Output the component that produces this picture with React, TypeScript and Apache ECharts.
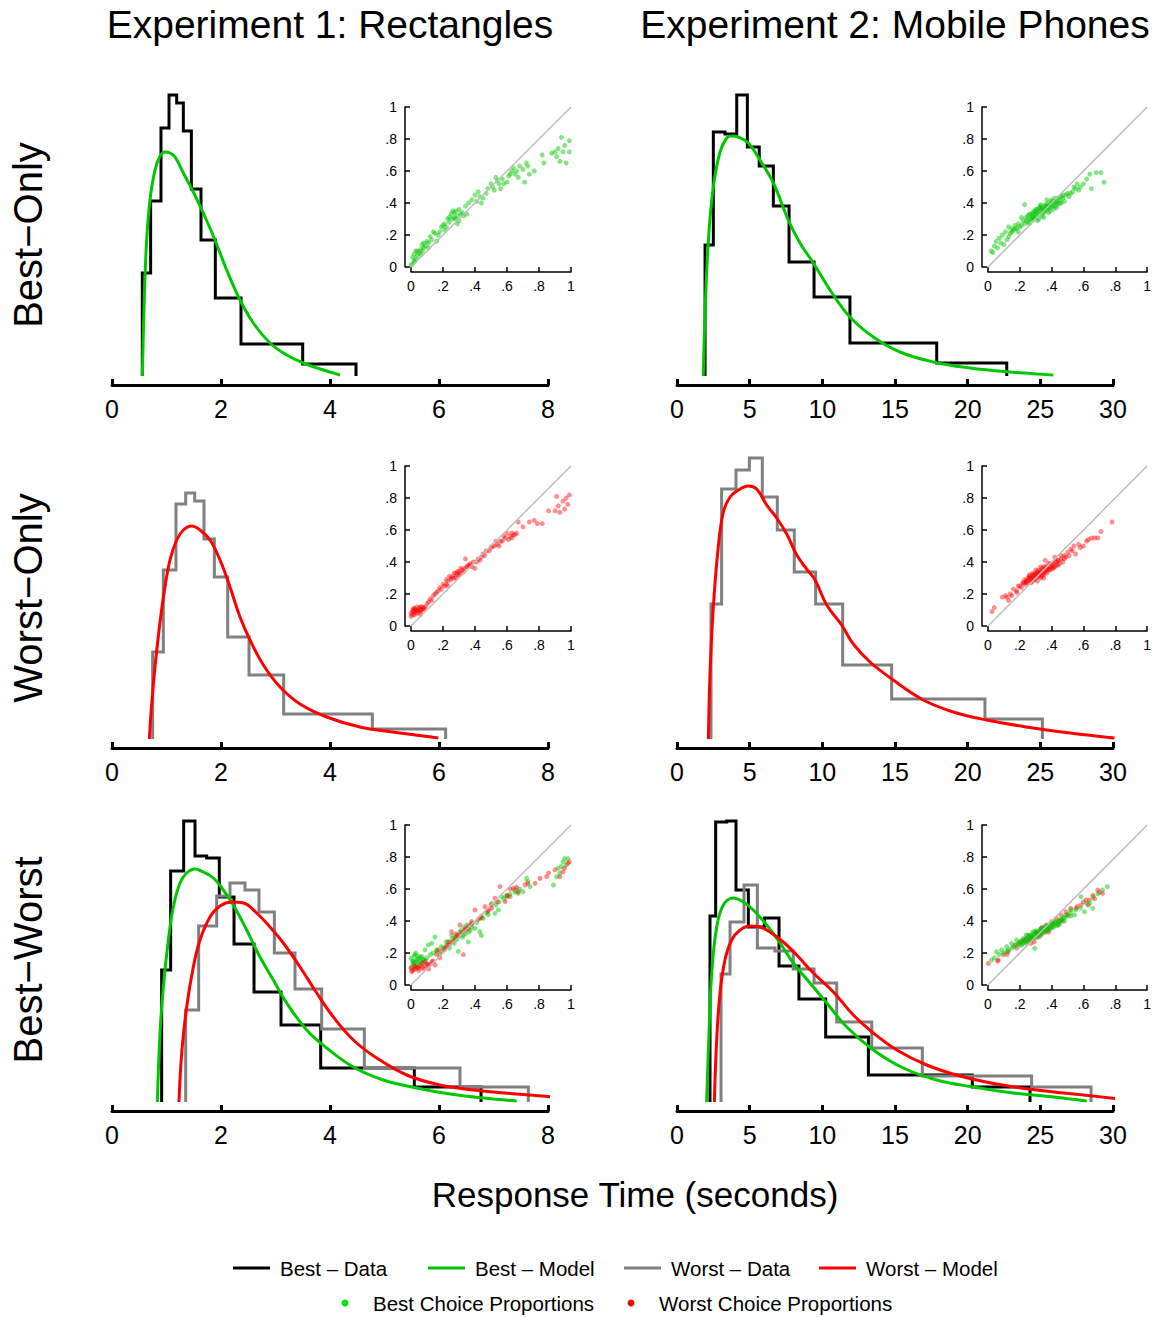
import React, { useEffect, useRef } from 'react';
import * as echarts from 'echarts';

const FONT = '"Liberation Sans", Arial, Helvetica, sans-serif';

const COL_BEST_DATA = '#000000';
const COL_BEST_MODEL = '#00c800';
const COL_WORST_DATA = '#808080';
const COL_WORST_MODEL = '#ff0000';
const COL_BEST_PTS = 'rgba(0,200,0,0.6)';
const COL_WORST_PTS = 'rgba(255,0,0,0.55)';

const TITLES = ['Experiment 1: Rectangles', 'Experiment 2: Mobile Phones'];
const ROW_LABELS = ['Best\u2212Only', 'Worst\u2212Only', 'Best\u2212Worst'];
const X_TITLE = 'Response Time (seconds)';
const LEGEND_LINES = ['Best \u2013 Data', 'Best \u2013 Model', 'Worst \u2013 Data', 'Worst \u2013 Model'];
const LEGEND_DOTS = ['Best Choice Proportions', 'Worst Choice Proportions'];

const X_MAX = [8, 30];
const X_STEP = [2, 5];
const DIAG = [[0, 0], [1, 1]];

// ---------- Histograms (bin edges in seconds, density heights) ----------
const r1c1BestEdges = [0.556, 0.709, 0.899, 1.046, 1.187, 1.309, 1.456, 1.633, 1.896, 2.367, 3.499, 4.477];
const r1c1BestHeights = [1.03, 1.75, 2.48, 2.81, 2.73, 2.45, 1.87, 1.36, 0.78, 0.32, 0.12];

const r1c2BestEdges = [1.93, 2.5, 3.3, 4.11, 4.84, 5.66, 6.63, 7.71, 9.43, 11.9, 17.87, 22.69];
const r1c2BestHeights = [1.31, 2.44, 2.42, 2.81, 2.29, 2.1, 1.7, 1.14, 0.79, 0.33, 0.13];

const r2c1WorstEdges = [0.746, 0.942, 1.174, 1.352, 1.517, 1.688, 1.878, 2.123, 2.514, 3.15, 4.777, 6.122];
const r2c1WorstHeights = [0.87, 1.69, 2.35, 2.46, 2.38, 2.0, 1.62, 1.02, 0.64, 0.25, 0.1];

const r2c2WorstEdges = [2.34, 3.07, 4.06, 4.98, 5.87, 6.9, 8.07, 9.54, 11.4, 14.77, 21.19, 25.14];
const r2c2WorstHeights = [1.35, 2.5, 2.69, 2.81, 2.42, 2.09, 1.67, 1.35, 0.74, 0.4, 0.2];

const r3c1BestEdges = [0.911, 1.076, 1.315, 1.523, 1.737, 1.969, 2.239, 2.606, 3.101, 3.829, 5.547, 6.771];
const r3c1BestHeights = [1.32, 2.31, 2.81, 2.46, 2.44, 2.05, 1.58, 1.1, 0.77, 0.34, 0.15];
const r3c1WorstEdges = [1.352, 1.59, 1.921, 2.165, 2.44, 2.697, 2.979, 3.358, 3.847, 4.63, 6.385, 7.639];
const r3c1WorstHeights = [0.92, 1.76, 2.06, 2.19, 2.12, 1.9, 1.49, 1.13, 0.73, 0.34, 0.15];

const r3c2BestEdges = [2.27, 2.66, 3.42, 4.06, 4.91, 6.01, 7.02, 8.39, 10.23, 13.17, 20.32, 24.29];
const r3c2BestHeights = [1.86, 2.8, 2.81, 2.12, 1.75, 1.84, 1.36, 1.03, 0.65, 0.27, 0.15];
const r3c2WorstEdges = [3.03, 3.65, 4.61, 5.53, 6.74, 8.0, 9.43, 10.99, 13.4, 16.88, 24.4, 28.49];
const r3c2WorstHeights = [1.28, 1.8, 2.17, 1.54, 1.51, 1.33, 1.19, 0.8, 0.54, 0.26, 0.15];

// ---------- Model densities ----------
const r1c1BestModel = [[0.557, 0], [0.593, 0.79], [0.636, 1.36], [0.697, 1.76], [0.789, 2.06], [0.881, 2.2], [0.972, 2.24], [1.064, 2.23], [1.156, 2.19], [1.309, 2.03], [1.492, 1.84], [1.675, 1.63], [1.89, 1.36], [2.104, 1.06], [2.349, 0.76], [2.593, 0.53], [2.899, 0.33], [3.205, 0.21], [3.511, 0.13], [3.817, 0.07], [4.183, 0.01]];
const r1c2BestModel = [[1.81, 0], [1.93, 0.63], [2.16, 1.36], [2.5, 1.89], [2.96, 2.24], [3.42, 2.38], [3.76, 2.4], [4.22, 2.39], [4.91, 2.33], [5.71, 2.16], [6.63, 1.93], [7.66, 1.56], [8.46, 1.33], [9.38, 1.13], [10.53, 0.86], [11.9, 0.59], [13.51, 0.39], [15.34, 0.24], [17.64, 0.14], [20.16, 0.08], [22.91, 0.04], [25.89, 0.01]];
const r2c1WorstModel = [[0.685, 0], [0.728, 0.35], [0.789, 0.72], [0.881, 1.17], [0.972, 1.52], [1.064, 1.79], [1.187, 1.99], [1.309, 2.09], [1.462, 2.13], [1.615, 2.09], [1.798, 1.99], [1.982, 1.79], [2.165, 1.52], [2.349, 1.22], [2.532, 0.99], [2.777, 0.74], [3.083, 0.52], [3.45, 0.35], [3.939, 0.22], [4.55, 0.12], [5.284, 0.06], [5.987, 0.01]];
const r2c2WorstModel = [[2.16, 0], [2.27, 0.65], [2.5, 1.32], [2.84, 1.92], [3.19, 2.27], [3.65, 2.42], [4.22, 2.49], [4.91, 2.53], [5.48, 2.5], [6.17, 2.34], [6.86, 2.21], [7.55, 2.05], [8.24, 1.84], [8.92, 1.7], [9.5, 1.59], [10.3, 1.34], [11.33, 1.14], [12.13, 0.95], [13.28, 0.77], [14.88, 0.59], [16.95, 0.39], [19.01, 0.27], [21.31, 0.19], [24.06, 0.12], [27.04, 0.06], [30.1, 0.01]];
const r3c1BestModel = [[0.832, 0], [0.881, 0.69], [0.942, 1.15], [1.034, 1.62], [1.125, 1.95], [1.248, 2.19], [1.37, 2.29], [1.523, 2.33], [1.675, 2.3], [1.859, 2.24], [2.043, 2.12], [2.226, 1.97], [2.471, 1.72], [2.716, 1.45], [2.96, 1.22], [3.205, 0.99], [3.572, 0.72], [3.939, 0.54], [4.428, 0.35], [4.978, 0.22], [5.59, 0.14], [6.202, 0.08], [6.813, 0.04], [7.425, 0.01]];
const r3c1WorstModel = [[1.229, 0], [1.279, 0.49], [1.37, 0.95], [1.492, 1.35], [1.615, 1.62], [1.798, 1.85], [1.982, 1.96], [2.196, 2.0], [2.41, 1.99], [2.654, 1.89], [2.899, 1.75], [3.143, 1.59], [3.45, 1.35], [3.756, 1.09], [4.061, 0.85], [4.428, 0.62], [4.856, 0.44], [5.407, 0.27], [6.018, 0.17], [6.63, 0.12], [7.425, 0.08], [8.343, 0.04]];
const r3c2BestModel = [[2.04, 0], [2.2, 0.69], [2.39, 1.29], [2.73, 1.75], [3.19, 1.97], [3.87, 2.04], [4.56, 2.0], [5.25, 1.92], [6.17, 1.77], [7.09, 1.59], [8.0, 1.39], [9.15, 1.19], [10.3, 0.99], [11.68, 0.75], [13.51, 0.52], [15.57, 0.34], [17.87, 0.22], [20.39, 0.15], [23.14, 0.09], [25.89, 0.05], [28.19, 0.01]];
const r3c2WorstModel = [[2.57, 0], [2.73, 0.62], [2.96, 1.09], [3.3, 1.42], [3.76, 1.62], [4.34, 1.72], [5.02, 1.76], [5.71, 1.75], [6.4, 1.7], [7.31, 1.6], [8.24, 1.47], [9.38, 1.29], [10.76, 1.1], [12.13, 0.87], [13.51, 0.69], [15.12, 0.52], [17.18, 0.37], [19.47, 0.26], [21.99, 0.18], [24.75, 0.12], [27.96, 0.07], [31.17, 0.02]];

// ---------- Choice proportions (observed x, predicted y) ----------
const r1c1BestPts = [[0.01, 0.02], [0.02, 0.04], [0.01, 0.06], [0.03, 0.05], [0.02, 0.08], [0.04, 0.07], [0.03, 0.1], [0.05, 0.09], [0.06, 0.11], [0.07, 0.1], [0.08, 0.12], [0.09, 0.13], [0.07, 0.14], [0.1, 0.16], [0.11, 0.15], [0.12, 0.19], [0.13, 0.17], [0.15, 0.21], [0.14, 0.22], [0.16, 0.16], [0.17, 0.2], [0.19, 0.25], [0.2, 0.26], [0.21, 0.27], [0.22, 0.25], [0.21, 0.23], [0.23, 0.3], [0.24, 0.31], [0.25, 0.33], [0.26, 0.3], [0.27, 0.34], [0.28, 0.35], [0.27, 0.31], [0.29, 0.32], [0.3, 0.36], [0.31, 0.33], [0.3, 0.29], [0.32, 0.34], [0.29, 0.27], [0.34, 0.38], [0.36, 0.4], [0.35, 0.33], [0.38, 0.42], [0.4, 0.45], [0.41, 0.41], [0.42, 0.47], [0.43, 0.44], [0.44, 0.4], [0.47, 0.46], [0.5, 0.52], [0.51, 0.5], [0.53, 0.56], [0.54, 0.54], [0.55, 0.52], [0.52, 0.48], [0.56, 0.49], [0.57, 0.55], [0.6, 0.53], [0.61, 0.57], [0.63, 0.6], [0.64, 0.62], [0.65, 0.58], [0.66, 0.6], [0.67, 0.56], [0.68, 0.63], [0.7, 0.61], [0.72, 0.65], [0.73, 0.63], [0.74, 0.58], [0.71, 0.53], [0.77, 0.6], [0.82, 0.7], [0.83, 0.65], [0.88, 0.71], [0.9, 0.72], [0.92, 0.74], [0.93, 0.66], [0.94, 0.81], [0.95, 0.72], [0.96, 0.76], [0.97, 0.65], [0.99, 0.79], [0.99, 0.72], [0.91, 0.69], [0.0, 0.01], [0.02, 0.03], [0.04, 0.1], [0.06, 0.08], [0.08, 0.15], [0.11, 0.12], [0.18, 0.22], [0.24, 0.28], [0.26, 0.35], [0.28, 0.3], [0.33, 0.32], [0.45, 0.43], [0.48, 0.49], [0.58, 0.52], [0.62, 0.58]];

const r1c2BestPts = [[0.02, 0.1], [0.04, 0.13], [0.05, 0.16], [0.07, 0.18], [0.09, 0.2], [0.1, 0.14], [0.06, 0.12], [0.13, 0.19], [0.15, 0.24], [0.17, 0.26], [0.19, 0.27], [0.21, 0.26], [0.23, 0.39], [0.24, 0.29], [0.26, 0.33], [0.28, 0.34], [0.3, 0.36], [0.33, 0.38], [0.35, 0.37], [0.36, 0.35], [0.38, 0.4], [0.4, 0.42], [0.42, 0.41], [0.44, 0.43], [0.46, 0.44], [0.49, 0.45], [0.51, 0.44], [0.53, 0.47], [0.54, 0.5], [0.57, 0.48], [0.6, 0.52], [0.64, 0.58], [0.65, 0.49], [0.68, 0.59], [0.71, 0.59], [0.73, 0.53], [0.11, 0.22], [0.14, 0.21], [0.16, 0.23], [0.12, 0.17], [0.18, 0.24], [0.2, 0.25], [0.19, 0.22], [0.22, 0.29], [0.24, 0.31], [0.25, 0.28], [0.26, 0.3], [0.27, 0.3], [0.28, 0.32], [0.29, 0.35], [0.3, 0.31], [0.3, 0.34], [0.31, 0.36], [0.32, 0.33], [0.32, 0.3], [0.33, 0.35], [0.34, 0.37], [0.34, 0.32], [0.35, 0.34], [0.36, 0.38], [0.36, 0.36], [0.37, 0.36], [0.38, 0.38], [0.38, 0.34], [0.39, 0.37], [0.4, 0.39], [0.41, 0.36], [0.41, 0.4], [0.42, 0.38], [0.43, 0.41], [0.44, 0.39], [0.45, 0.42], [0.46, 0.4], [0.47, 0.43], [0.48, 0.41], [0.33, 0.39], [0.35, 0.31], [0.37, 0.42], [0.28, 0.29], [0.26, 0.27], [0.31, 0.29], [0.39, 0.35], [0.43, 0.37], [0.23, 0.27], [0.25, 0.32], [0.27, 0.33], [0.29, 0.31], [0.31, 0.34], [0.33, 0.36], [0.35, 0.36], [0.37, 0.38], [0.39, 0.39], [0.41, 0.38], [0.43, 0.4], [0.45, 0.4], [0.3, 0.33], [0.34, 0.34], [0.36, 0.39], [0.4, 0.41], [0.42, 0.43], [0.38, 0.37], [0.32, 0.37], [0.28, 0.31], [0.47, 0.45], [0.5, 0.46], [0.52, 0.46], [0.55, 0.49], [0.58, 0.5], [0.62, 0.55], [0.56, 0.52], [0.15, 0.22], [0.17, 0.24], [0.13, 0.25], [0.21, 0.31], [0.08, 0.15], [0.03, 0.09]];

const r2c1WorstPts = [[0.0, 0.08], [0.02, 0.11], [0.03, 0.1], [0.06, 0.1], [0.08, 0.11], [0.1, 0.14], [0.12, 0.17], [0.14, 0.19], [0.16, 0.21], [0.18, 0.24], [0.2, 0.26], [0.22, 0.29], [0.24, 0.31], [0.27, 0.33], [0.29, 0.34], [0.31, 0.36], [0.34, 0.42], [0.35, 0.37], [0.37, 0.39], [0.4, 0.36], [0.42, 0.42], [0.45, 0.45], [0.47, 0.47], [0.5, 0.49], [0.53, 0.53], [0.55, 0.5], [0.58, 0.56], [0.6, 0.58], [0.61, 0.54], [0.64, 0.57], [0.67, 0.65], [0.7, 0.62], [0.77, 0.66], [0.82, 0.64], [0.86, 0.72], [0.91, 0.81], [0.92, 0.75], [0.93, 0.71], [0.95, 0.78], [0.97, 0.8], [0.99, 0.82], [0.98, 0.76], [0.96, 0.73], [0.0, 0.06], [0.01, 0.09], [0.02, 0.07], [0.03, 0.1], [0.04, 0.08], [0.05, 0.11], [0.06, 0.09], [0.07, 0.1], [0.08, 0.11], [0.02, 0.11], [0.04, 0.12], [0.06, 0.12], [0.01, 0.1], [0.03, 0.08], [0.05, 0.095], [0.22, 0.26], [0.23, 0.25], [0.25, 0.29], [0.26, 0.31], [0.27, 0.3], [0.28, 0.33], [0.29, 0.32], [0.3, 0.34], [0.31, 0.33], [0.32, 0.35], [0.33, 0.34], [0.35, 0.37], [0.37, 0.38], [0.39, 0.4], [0.44, 0.43], [0.52, 0.5], [0.56, 0.53], [0.62, 0.56], [0.63, 0.58], [0.65, 0.57], [0.01, 0.07], [0.02, 0.09], [0.04, 0.095], [0.06, 0.07], [0.07, 0.12], [0.09, 0.12], [0.11, 0.15], [0.13, 0.16], [0.15, 0.2], [0.17, 0.22], [0.19, 0.23], [0.21, 0.25], [0.23, 0.28], [0.25, 0.3], [0.28, 0.3], [0.3, 0.32], [0.33, 0.36], [0.36, 0.38], [0.38, 0.37], [0.41, 0.4], [0.43, 0.41], [0.46, 0.44], [0.49, 0.47], [0.51, 0.5], [0.54, 0.51], [0.57, 0.53], [0.59, 0.55], [0.63, 0.55], [0.66, 0.58], [0.74, 0.65], [0.79, 0.64], [0.9, 0.72]];

const r2c2WorstPts = [[0.025, 0.09], [0.04, 0.115], [0.09, 0.18], [0.11, 0.19], [0.13, 0.16], [0.14, 0.2], [0.16, 0.23], [0.18, 0.22], [0.19, 0.25], [0.21, 0.24], [0.22, 0.27], [0.24, 0.28], [0.26, 0.31], [0.28, 0.32], [0.31, 0.33], [0.33, 0.34], [0.35, 0.37], [0.36, 0.41], [0.37, 0.35], [0.39, 0.39], [0.41, 0.37], [0.42, 0.43], [0.44, 0.41], [0.46, 0.44], [0.48, 0.42], [0.5, 0.46], [0.52, 0.48], [0.55, 0.45], [0.57, 0.51], [0.6, 0.5], [0.62, 0.53], [0.65, 0.55], [0.67, 0.55], [0.71, 0.59], [0.78, 0.65], [0.22, 0.27], [0.23, 0.29], [0.24, 0.28], [0.25, 0.3], [0.26, 0.29], [0.26, 0.32], [0.27, 0.3], [0.27, 0.27], [0.28, 0.31], [0.28, 0.33], [0.29, 0.29], [0.29, 0.32], [0.3, 0.3], [0.3, 0.33], [0.31, 0.31], [0.31, 0.28], [0.32, 0.32], [0.32, 0.35], [0.33, 0.3], [0.33, 0.34], [0.34, 0.33], [0.34, 0.36], [0.35, 0.32], [0.35, 0.35], [0.36, 0.34], [0.36, 0.37], [0.37, 0.33], [0.38, 0.36], [0.38, 0.39], [0.39, 0.35], [0.4, 0.38], [0.41, 0.36], [0.42, 0.4], [0.43, 0.38], [0.44, 0.41], [0.45, 0.39], [0.46, 0.42], [0.47, 0.4], [0.49, 0.43], [0.51, 0.44], [0.23, 0.26], [0.25, 0.27], [0.27, 0.29], [0.29, 0.3], [0.3, 0.32], [0.31, 0.34], [0.32, 0.31], [0.33, 0.33], [0.34, 0.31], [0.35, 0.33], [0.36, 0.35], [0.37, 0.37], [0.38, 0.35], [0.39, 0.37], [0.4, 0.36], [0.41, 0.39], [0.42, 0.37], [0.43, 0.4], [0.28, 0.28], [0.3, 0.35], [0.26, 0.3], [0.24, 0.27], [0.2, 0.25], [0.18, 0.21], [0.15, 0.19], [0.12, 0.18], [0.33, 0.37], [0.35, 0.3], [0.44, 0.38], [0.48, 0.44], [0.53, 0.47], [0.58, 0.49], [0.63, 0.54], [0.69, 0.55], [0.54, 0.5]];

const r3c1BestPts = [[0.0, 0.167], [0.015, 0.146], [0.025, 0.19], [0.035, 0.125], [0.046, 0.167], [0.056, 0.146], [0.067, 0.177], [0.077, 0.156], [0.088, 0.22], [0.108, 0.25], [0.13, 0.26], [0.15, 0.3], [0.16, 0.21], [0.18, 0.19], [0.2, 0.23], [0.223, 0.25], [0.244, 0.27], [0.254, 0.31], [0.275, 0.28], [0.296, 0.21], [0.306, 0.33], [0.327, 0.31], [0.348, 0.375], [0.358, 0.27], [0.379, 0.385], [0.4, 0.354], [0.43, 0.333], [0.44, 0.31], [0.452, 0.417], [0.483, 0.44], [0.504, 0.51], [0.525, 0.448], [0.546, 0.469], [0.567, 0.552], [0.598, 0.56], [0.619, 0.567], [0.65, 0.594], [0.67, 0.573], [0.7, 0.583], [0.723, 0.667], [0.73, 0.646], [0.744, 0.615], [0.89, 0.625], [0.91, 0.677], [0.92, 0.73], [0.95, 0.77], [0.96, 0.79], [0.98, 0.79], [0.97, 0.75], [0.01, 0.13], [0.03, 0.15], [0.02, 0.18], [0.04, 0.14], [0.06, 0.17], [0.05, 0.12], [0.08, 0.16], [0.0, 0.11], [0.03, 0.2], [0.26, 0.29], [0.28, 0.3], [0.31, 0.34], [0.33, 0.36], [0.37, 0.34], [0.41, 0.39], [0.47, 0.45], [0.53, 0.5], [0.58, 0.54], [0.01, 0.15], [0.02, 0.14], [0.04, 0.16], [0.05, 0.18], [0.07, 0.14], [0.09, 0.15], [0.1, 0.17], [0.12, 0.19], [0.14, 0.2], [0.16, 0.22], [0.19, 0.24], [0.21, 0.22], [0.22, 0.27], [0.24, 0.23], [0.27, 0.26], [0.29, 0.29], [0.32, 0.3], [0.34, 0.32], [0.36, 0.33], [0.38, 0.36], [0.44, 0.42], [0.55, 0.52], [0.6, 0.55], [0.65, 0.58], [0.68, 0.6], [0.93, 0.7], [0.94, 0.74]];

const r3c1WorstPts = [[0.0, 0.104], [0.004, 0.083], [0.025, 0.115], [0.046, 0.104], [0.067, 0.135], [0.088, 0.146], [0.108, 0.125], [0.13, 0.146], [0.15, 0.125], [0.17, 0.22], [0.19, 0.208], [0.213, 0.229], [0.233, 0.27], [0.254, 0.333], [0.275, 0.29], [0.306, 0.375], [0.327, 0.19], [0.338, 0.344], [0.358, 0.354], [0.379, 0.396], [0.4, 0.469], [0.43, 0.417], [0.463, 0.49], [0.483, 0.469], [0.504, 0.479], [0.525, 0.542], [0.556, 0.615], [0.588, 0.521], [0.619, 0.552], [0.64, 0.604], [0.67, 0.583], [0.713, 0.625], [0.73, 0.635], [0.775, 0.635], [0.806, 0.667], [0.848, 0.677], [0.9, 0.72], [0.93, 0.677], [0.95, 0.708], [0.98, 0.76], [0.99, 0.77], [0.01, 0.09], [0.03, 0.1], [0.02, 0.12], [0.05, 0.09], [0.07, 0.11], [0.09, 0.12], [0.11, 0.1], [0.12, 0.13], [0.24, 0.25], [0.29, 0.31], [0.32, 0.33], [0.36, 0.37], [0.42, 0.41], [0.5, 0.5], [0.02, 0.1], [0.04, 0.11], [0.06, 0.12], [0.08, 0.1], [0.1, 0.13], [0.14, 0.15], [0.16, 0.19], [0.18, 0.17], [0.22, 0.24], [0.26, 0.27], [0.28, 0.32], [0.3, 0.31], [0.34, 0.35], [0.38, 0.38], [0.44, 0.43], [0.48, 0.46], [0.54, 0.52], [0.6, 0.56], [0.62, 0.6], [0.66, 0.61], [0.86, 0.7], [0.96, 0.73]];

const r3c2BestPts = [[0.023, 0.156], [0.054, 0.208], [0.085, 0.219], [0.117, 0.24], [0.148, 0.26], [0.179, 0.281], [0.2, 0.25], [0.22, 0.29], [0.24, 0.313], [0.26, 0.3], [0.283, 0.333], [0.294, 0.229], [0.315, 0.323], [0.335, 0.344], [0.356, 0.365], [0.377, 0.354], [0.4, 0.385], [0.42, 0.396], [0.44, 0.375], [0.46, 0.406], [0.49, 0.438], [0.52, 0.469], [0.544, 0.438], [0.585, 0.552], [0.606, 0.458], [0.638, 0.51], [0.658, 0.479], [0.72, 0.594], [0.75, 0.615], [0.18, 0.25], [0.2, 0.27], [0.21, 0.25], [0.22, 0.28], [0.23, 0.27], [0.24, 0.29], [0.25, 0.28], [0.25, 0.31], [0.26, 0.29], [0.27, 0.31], [0.27, 0.28], [0.28, 0.3], [0.29, 0.32], [0.29, 0.29], [0.3, 0.31], [0.3, 0.34], [0.31, 0.32], [0.32, 0.3], [0.32, 0.34], [0.33, 0.33], [0.34, 0.35], [0.34, 0.32], [0.35, 0.34], [0.36, 0.36], [0.36, 0.33], [0.37, 0.35], [0.38, 0.37], [0.38, 0.34], [0.39, 0.36], [0.4, 0.38], [0.41, 0.36], [0.42, 0.39], [0.43, 0.37], [0.44, 0.4], [0.45, 0.38], [0.46, 0.41], [0.47, 0.42], [0.48, 0.4], [0.5, 0.43], [0.52, 0.45], [0.1, 0.2], [0.13, 0.22], [0.16, 0.24], [0.19, 0.26], [0.21, 0.27], [0.23, 0.28], [0.24, 0.26], [0.26, 0.28], [0.28, 0.32], [0.3, 0.3], [0.31, 0.33], [0.33, 0.32], [0.33, 0.35], [0.35, 0.35], [0.37, 0.37], [0.39, 0.38], [0.4, 0.36], [0.41, 0.38], [0.43, 0.39], [0.45, 0.4], [0.48, 0.42], [0.52, 0.43], [0.55, 0.47], [0.58, 0.48], [0.62, 0.51], [0.66, 0.55], [0.69, 0.57], [0.15, 0.23], [0.07, 0.19], [0.04, 0.17], [0.12, 0.21]];

const r3c2WorstPts = [[0.002, 0.135], [0.065, 0.156], [0.096, 0.19], [0.127, 0.208], [0.169, 0.25], [0.2, 0.27], [0.23, 0.281], [0.273, 0.29], [0.304, 0.323], [0.335, 0.354], [0.367, 0.375], [0.4, 0.396], [0.43, 0.417], [0.46, 0.438], [0.49, 0.458], [0.52, 0.479], [0.554, 0.479], [0.585, 0.5], [0.617, 0.531], [0.638, 0.531], [0.67, 0.54], [0.69, 0.594], [0.72, 0.573], [0.22, 0.26], [0.25, 0.27], [0.28, 0.29], [0.31, 0.3], [0.33, 0.31], [0.35, 0.33], [0.37, 0.34], [0.39, 0.35], [0.41, 0.37], [0.44, 0.38], [0.47, 0.4], [0.26, 0.31], [0.3, 0.33], [0.34, 0.36], [0.29, 0.27], [0.06, 0.15], [0.12, 0.19], [0.18, 0.23], [0.24, 0.29], [0.32, 0.32], [0.36, 0.35], [0.45, 0.4], [0.5, 0.44], [0.56, 0.49], [0.6, 0.52], [0.66, 0.56], [0.7, 0.58], [0.63, 0.5], [0.27, 0.26], [0.38, 0.33]];

// ---------- Panel definitions ----------
const PANELS = [
  { row: 0, col: 0, hist: [[r1c1BestEdges, r1c1BestHeights, COL_BEST_DATA]], models: [[r1c1BestModel, COL_BEST_MODEL]], pts: [[r1c1BestPts, COL_BEST_PTS]] },
  { row: 0, col: 1, hist: [[r1c2BestEdges, r1c2BestHeights, COL_BEST_DATA]], models: [[r1c2BestModel, COL_BEST_MODEL]], pts: [[r1c2BestPts, COL_BEST_PTS]] },
  { row: 1, col: 0, hist: [[r2c1WorstEdges, r2c1WorstHeights, COL_WORST_DATA]], models: [[r2c1WorstModel, COL_WORST_MODEL]], pts: [[r2c1WorstPts, COL_WORST_PTS]] },
  { row: 1, col: 1, hist: [[r2c2WorstEdges, r2c2WorstHeights, COL_WORST_DATA]], models: [[r2c2WorstModel, COL_WORST_MODEL]], pts: [[r2c2WorstPts, COL_WORST_PTS]] },
  { row: 2, col: 0, hist: [[r3c1BestEdges, r3c1BestHeights, COL_BEST_DATA], [r3c1WorstEdges, r3c1WorstHeights, COL_WORST_DATA]], models: [[r3c1BestModel, COL_BEST_MODEL], [r3c1WorstModel, COL_WORST_MODEL]], pts: [[r3c1BestPts, COL_BEST_PTS], [r3c1WorstPts, COL_WORST_PTS]] },
  { row: 2, col: 1, hist: [[r3c2BestEdges, r3c2BestHeights, COL_BEST_DATA], [r3c2WorstEdges, r3c2WorstHeights, COL_WORST_DATA]], models: [[r3c2BestModel, COL_BEST_MODEL], [r3c2WorstModel, COL_WORST_MODEL]], pts: [[r3c2WorstPts, COL_WORST_PTS], [r3c2BestPts, COL_BEST_PTS]] },
] as any[];

function stepPoints(edges: number[], heights: number[]) {
  const pts: number[][] = [[edges[0], 0]];
  for (let i = 0; i < heights.length; i++) {
    pts.push([edges[i], heights[i]]);
    pts.push([edges[i + 1], heights[i]]);
  }
  pts.push([edges[edges.length - 1], 0]);
  return pts;
}

function propLabel(v: number) {
  if (v === 0) return '0';
  if (v >= 0.999) return '1';
  return '.' + Math.round(v * 10);
}

function buildOption() {
  const MAIN_LEFT = [112, 677];
  const MAIN_W = 436;
  const BASE = [376, 739, 1102];
  const MAIN_H = 300;
  const INSET_LEFT = [411, 988];
  const INSET_TOP = [107, 466, 825];
  const INSET_S = 160;

  const grid: any[] = [];
  const xAxis: any[] = [];
  const yAxis: any[] = [];
  const series: any[] = [];

  PANELS.forEach((p) => {
    const gMain = grid.length;
    grid.push({ left: MAIN_LEFT[p.col], top: BASE[p.row] - MAIN_H, width: MAIN_W, height: MAIN_H });
    xAxis.push({
      gridIndex: gMain, type: 'value', min: 0, max: X_MAX[p.col], interval: X_STEP[p.col], offset: 9,
      axisLine: { show: true, onZero: false, lineStyle: { color: '#000', width: 3 } },
      axisTick: { show: true, inside: true, length: 6, lineStyle: { color: '#000', width: 3 } },
      axisLabel: { fontSize: 25, color: '#000', fontFamily: FONT, margin: 11 },
      splitLine: { show: false },
    });
    yAxis.push({ gridIndex: gMain, type: 'value', min: 0, max: 3, show: false });

    p.hist.forEach((h: any) => {
      series.push({
        type: 'line', xAxisIndex: gMain, yAxisIndex: gMain, data: stepPoints(h[0], h[1]),
        symbol: 'none', clip: false, silent: true,
        lineStyle: { color: h[2], width: 3, join: 'miter' },
      });
    });
    p.models.forEach((m: any) => {
      series.push({
        type: 'line', xAxisIndex: gMain, yAxisIndex: gMain, data: m[0],
        symbol: 'none', clip: false, silent: true, smooth: 0.4,
        lineStyle: { color: m[1], width: 3 },
      });
    });

    const gIn = grid.length;
    grid.push({ left: INSET_LEFT[p.col], top: INSET_TOP[p.row], width: INSET_S, height: INSET_S });
    xAxis.push({
      gridIndex: gIn, type: 'value', min: 0, max: 1, interval: 0.2, offset: 5,
      axisLine: { show: true, onZero: false, lineStyle: { color: '#000', width: 1.5 } },
      axisTick: { show: true, inside: true, length: 5, lineStyle: { color: '#000', width: 1.5 } },
      axisLabel: { fontSize: 14, color: '#000', fontFamily: FONT, margin: 7, formatter: propLabel },
      splitLine: { show: false },
    });
    yAxis.push({
      gridIndex: gIn, type: 'value', min: 0, max: 1, interval: 0.2, offset: 6,
      axisLine: { show: true, onZero: false, lineStyle: { color: '#000', width: 1.5 } },
      axisTick: { show: true, inside: true, length: 5, lineStyle: { color: '#000', width: 1.5 } },
      axisLabel: { fontSize: 14, color: '#000', fontFamily: FONT, margin: 8, formatter: propLabel },
      splitLine: { show: false },
    });
    series.push({
      type: 'line', xAxisIndex: gIn, yAxisIndex: gIn, data: DIAG, symbol: 'none', silent: true,
      lineStyle: { color: '#bdbdbd', width: 1.5 },
    });
    p.pts.forEach((s: any) => {
      series.push({
        type: 'scatter', xAxisIndex: gIn, yAxisIndex: gIn, data: s[0], symbolSize: 5, silent: true,
        itemStyle: { color: s[1] },
      });
    });
  });

  const txt = (text: string, x: number, y: number, size: number, align = 'center', rotation = 0) => ({
    type: 'text', x, y, rotation, silent: true,
    style: {
      text, fill: '#000', fontSize: size, fontFamily: FONT,
      align, verticalAlign: 'middle', textAlign: align, textVerticalAlign: 'middle',
    },
  });

  const graphic: any[] = [
    txt(TITLES[0], 330, 24, 39),
    txt(TITLES[1], 895, 24, 39),
    txt(ROW_LABELS[0], 28, 235, 40, 'center', Math.PI / 2),
    txt(ROW_LABELS[1], 28, 598, 40, 'center', Math.PI / 2),
    txt(ROW_LABELS[2], 28, 960, 40, 'center', Math.PI / 2),
    txt(X_TITLE, 635, 1194, 35),
  ];
  const lineCols = [COL_BEST_DATA, COL_BEST_MODEL, COL_WORST_DATA, COL_WORST_MODEL];
  const lineX = [233, 428, 624, 819];
  LEGEND_LINES.forEach((t, i) => {
    graphic.push({ type: 'line', silent: true, shape: { x1: lineX[i], y1: 1268, x2: lineX[i] + 37, y2: 1268 }, style: { stroke: lineCols[i], lineWidth: 3 } });
    graphic.push(txt(t, lineX[i] + 47, 1268, 20.5, 'left'));
  });
  const dotCols = ['#00e600', '#ff0000'];
  const dotX = [345, 631];
  LEGEND_DOTS.forEach((t, i) => {
    graphic.push({ type: 'circle', silent: true, shape: { cx: dotX[i], cy: 1303, r: 3.5 }, style: { fill: dotCols[i] } });
    graphic.push(txt(t, dotX[i] + 28, 1303, 20.5, 'left'));
  });

  return { animation: false, backgroundColor: '#fff', grid, xAxis, yAxis, series, graphic };
}

export default function App() {
  const ref = useRef<HTMLDivElement>(null);
  useEffect(() => {
    document.body.style.margin = '0';
    const chart = echarts.init(ref.current as HTMLDivElement, null, { renderer: 'svg' });
    chart.setOption(buildOption() as any);
    return () => chart.dispose();
  }, []);
  return <div ref={ref} style={{ width: 1154, height: 1317 }} />;
}
